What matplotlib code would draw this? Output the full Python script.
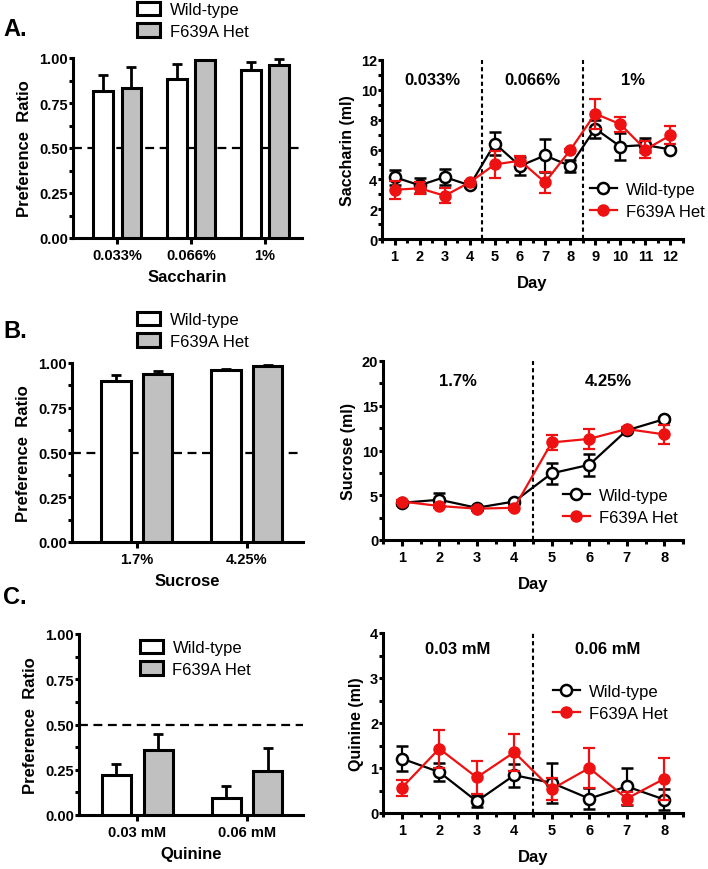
import matplotlib
matplotlib.use('Agg')
import matplotlib.pyplot as plt
from matplotlib.patches import Patch
from matplotlib.lines import Line2D
from matplotlib.ticker import MultipleLocator
import numpy as np

# ---- 数据 ----
# A: saccharin
sac_groups = ['0.033%', '0.066%', '1%']
sac_wt = [0.816, 0.883, 0.933]
sac_wt_err = [0.091, 0.084, 0.047]
sac_het = [0.833, 0.987, 0.961]
sac_het_err = [0.117, 0.004, 0.032]

sac_days = list(range(1, 13))
sac_wt_ml = [4.15, 3.6, 4.15, 3.6, 6.4, 4.9, 5.6, 4.9, 7.4, 6.2, 6.3, 6.0]
sac_wt_ml_err = [0.5, 0.5, 0.55, 0.1, 0.8, 0.6, 1.1, 0.4, 0.6, 0.9, 0.5, 0.1]
sac_het_ml = [3.3, 3.4, 2.9, 3.8, 5.0, 5.25, 3.8, 5.95, 8.4, 7.7, 6.0, 6.95]
sac_het_ml_err = [0.6, 0.4, 0.5, 0.1, 0.9, 0.3, 0.7, 0.1, 1.0, 0.5, 0.6, 0.6]
sac_phases = ['0.033%', '0.066%', '1%']

# B: sucrose
suc_groups = ['1.7%', '4.25%']
suc_wt = [0.90, 0.96]
suc_wt_err = [0.035, 0.008]
suc_het = [0.94, 0.985]
suc_het_err = [0.015, 0.003]

suc_days = list(range(1, 9))
suc_wt_ml = [4.15, 4.5, 3.6, 4.3, 7.45, 8.4, 12.25, 13.5]
suc_wt_ml_err = [0.2, 0.7, 0.2, 0.2, 1.2, 1.2, 0.2, 0.2]
suc_het_ml = [4.3, 3.8, 3.5, 3.6, 10.9, 11.3, 12.4, 11.8]
suc_het_ml_err = [0.2, 0.2, 0.2, 0.2, 0.8, 1.1, 0.2, 1.1]
suc_phases = ['1.7%', '4.25%']

# C: quinine
qui_groups = ['0.03 mM', '0.06 mM']
qui_wt = [0.221, 0.094]
qui_wt_err = [0.061, 0.064]
qui_het = [0.361, 0.241]
qui_het_err = [0.087, 0.127]

qui_days = list(range(1, 9))
qui_wt_ml = [1.21, 0.91, 0.26, 0.84, 0.67, 0.32, 0.59, 0.30]
qui_wt_ml_err = [0.28, 0.2, 0.13, 0.26, 0.44, 0.23, 0.42, 0.23]
qui_het_ml = [0.56, 1.43, 0.79, 1.35, 0.53, 1.0, 0.32, 0.76]
qui_het_ml_err = [0.18, 0.42, 0.37, 0.41, 0.25, 0.45, 0.15, 0.47]
qui_phases = ['0.03 mM', '0.06 mM']

RED = '#EE1111'
GREY = '#C0C0C0'
W, H = 708, 870


def fig_rect(left, top, right, bottom):
    """像素坐标 -> figure 坐标"""
    return [left / W, 1 - bottom / H, (right - left) / W, (bottom - top) / H]


def style_axes(ax):
    for side in ['top', 'right']:
        ax.spines[side].set_visible(False)
    for side in ['left', 'bottom']:
        ax.spines[side].set_linewidth(2.2)
    ax.tick_params(which='major', direction='out', width=2.2, length=4.5,
                   labelsize=10.5)
    ax.tick_params(which='minor', direction='out', width=2.2, length=3)
    ax.tick_params(axis='y', which='both', length=3, pad=0.5)
    ax.tick_params(axis='x', pad=3)
    for lab in ax.get_xticklabels() + ax.get_yticklabels():
        lab.set_fontweight('bold')


def plot_pref_bars(ax, groups, wt, wt_err, het, het_err, xlabel, xlim,
                   leg_xy, fig):
    x = np.arange(len(groups))
    off, width = 0.19, 0.265
    ax.bar(x - off, wt, width, color='white', edgecolor='black', linewidth=2.2,
           yerr=[np.zeros(len(wt)), wt_err], capsize=3.5,
           error_kw=dict(elinewidth=2, capthick=2, ecolor='black'), zorder=3)
    ax.bar(x + off, het, width, color=GREY, edgecolor='black', linewidth=2.2,
           yerr=[np.zeros(len(het)), het_err], capsize=3.5,
           error_kw=dict(elinewidth=2, capthick=2, ecolor='black'), zorder=3)
    ax.axhline(0.5, color='black', linestyle=(0, (4, 2.5)), linewidth=1.6, zorder=1)
    ax.set_xlim(*xlim)
    ax.set_ylim(0, 1.0)
    ax.set_xticks(x)
    ax.set_xticklabels(groups)
    ax.set_yticks([0, 0.25, 0.5, 0.75, 1.0])
    ax.set_yticklabels(['0.00', '0.25', '0.50', '0.75', '1.00'])
    ax.yaxis.set_minor_locator(MultipleLocator(0.125))
    ax.set_ylabel('Preference  Ratio', fontsize=12, fontweight='bold', labelpad=5)
    ax.set_xlabel(xlabel, fontsize=12, fontweight='bold', labelpad=5)
    style_axes(ax)

    handles = [Patch(facecolor='white', edgecolor='black', linewidth=2.2),
               Patch(facecolor=GREY, edgecolor='black', linewidth=2.2)]
    ax.legend(handles, ['Wild-type', 'F639A Het'], loc='upper left',
              bbox_to_anchor=(leg_xy[0] / W, 1 - leg_xy[1] / H),
              bbox_transform=fig.transFigure, frameon=False, fontsize=12,
              handlelength=1.4, handleheight=0.85, handletextpad=0.55,
              labelspacing=0.35, borderpad=0, borderaxespad=0)


def plot_intake(ax, days, wt, wt_err, het, het_err, ylabel, ylim, ystep,
                phases, text_y, leg_xy, fig):
    ax.errorbar(days, wt, yerr=wt_err, color='black', marker='o', ms=8,
                mfc='white', mec='black', mew=1.8, lw=1.6, capsize=4.5,
                elinewidth=1.6, capthick=1.6, zorder=3, label='Wild-type')
    ax.errorbar(days, het, yerr=het_err, color=RED, marker='o', ms=8,
                mfc=RED, mec=RED, lw=1.6, capsize=4.5,
                elinewidth=1.6, capthick=1.6, zorder=4, label='F639A Het')
    n = len(phases)
    span = len(days) / n
    for i in range(1, n):
        ax.axvline(0.5 + i * span, color='black', linestyle=(0, (2, 1.5)),
                   linewidth=1.5, zorder=1)
    for i, p in enumerate(phases):
        ax.text(0.5 + (i + 0.5) * span, text_y, p, ha='center', va='center',
                fontsize=12, fontweight='bold')
    ax.set_xlim(0.5, len(days) + 0.5)
    ax.set_ylim(*ylim)
    ax.set_xticks(days)
    ax.xaxis.set_minor_locator(MultipleLocator(0.5))
    ax.yaxis.set_major_locator(MultipleLocator(ystep))
    ax.yaxis.set_minor_locator(MultipleLocator(ystep / 2))
    ax.set_ylabel(ylabel, fontsize=11.5, fontweight='bold', labelpad=4)
    ax.set_xlabel('Day', fontsize=12, fontweight='bold', labelpad=8)
    style_axes(ax)

    h_wt = Line2D([], [], color='black', marker='o', ms=8, mfc='white',
                  mec='black', mew=1.8, lw=1.6)
    h_het = Line2D([], [], color=RED, marker='o', ms=8, mfc=RED, mec=RED, lw=1.6)
    ax.legend([h_wt, h_het], ['Wild-type', 'F639A Het'], loc='upper left',
              bbox_to_anchor=(leg_xy[0] / W, 1 - leg_xy[1] / H),
              bbox_transform=fig.transFigure, frameon=False, fontsize=12,
              handlelength=1.6, handletextpad=0.55, labelspacing=0.4,
              borderpad=0, borderaxespad=0, numpoints=1)


def main():
    plt.rcParams['font.family'] = ['Liberation Sans', 'DejaVu Sans']
    plt.rcParams['figure.dpi'] = 100

    fig = plt.figure(figsize=(W / 100, H / 100))

    ax1 = fig.add_axes(fig_rect(73, 59, 302, 239))
    plot_pref_bars(ax1, sac_groups, sac_wt, sac_wt_err, sac_het, sac_het_err,
                   'Saccharin', (-0.6, 2.5), (137, 3), fig)
    ax2 = fig.add_axes(fig_rect(382, 61, 683, 240))
    plot_intake(ax2, sac_days, sac_wt_ml, sac_wt_ml_err, sac_het_ml,
                sac_het_ml_err, 'Saccharin (ml)', (0, 12), 2, sac_phases,
                10.7, (590, 183), fig)

    ax3 = fig.add_axes(fig_rect(72, 364, 303, 543))
    plot_pref_bars(ax3, suc_groups, suc_wt, suc_wt_err, suc_het, suc_het_err,
                   'Sucrose', (-0.59, 1.51), (137, 313), fig)
    ax4 = fig.add_axes(fig_rect(383, 362, 683, 541))
    plot_intake(ax4, suc_days, suc_wt_ml, suc_wt_ml_err, suc_het_ml,
                suc_het_ml_err, 'Sucrose (ml)', (0, 20), 5, suc_phases,
                17.8, (563, 489), fig)

    ax5 = fig.add_axes(fig_rect(79, 635, 303, 816))
    plot_pref_bars(ax5, qui_groups, qui_wt, qui_wt_err, qui_het, qui_het_err,
                   'Quinine', (-0.53, 1.51), (140, 641), fig)
    ax6 = fig.add_axes(fig_rect(383, 634, 683, 814))
    plot_intake(ax6, qui_days, qui_wt_ml, qui_wt_ml_err, qui_het_ml,
                qui_het_ml_err, 'Quinine (ml)', (0, 4), 1, qui_phases,
                3.65, (553, 685), fig)

    # 面板字母
    for label, y in [('A.', 30), ('B.', 332), ('C.', 598)]:
        fig.text(3 / W, 1 - y / H, label, fontsize=17, fontweight='bold',
                 va='center', ha='left')

    fig.savefig('out.png', dpi=100)


if __name__ == '__main__':
    main()
